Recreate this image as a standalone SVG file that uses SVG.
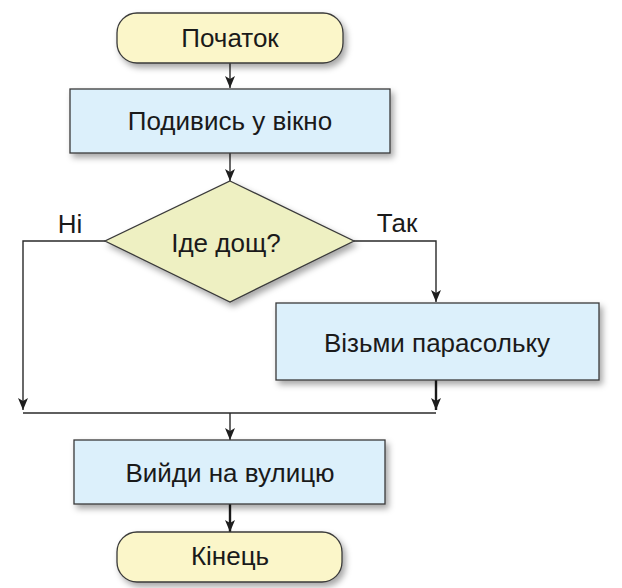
<svg xmlns="http://www.w3.org/2000/svg" width="622" height="588" viewBox="0 0 622 588">
<defs>
<filter id="sh" x="-10%" y="-20%" width="130%" height="160%">
<feDropShadow dx="3" dy="4" stdDeviation="3" flood-color="#000" flood-opacity="0.35"/>
</filter>
<marker id="ar" viewBox="0 0 12 10" refX="12" refY="5" markerWidth="12" markerHeight="10" markerUnits="userSpaceOnUse" orient="auto">
<path d="M0,0 L3,5 L0,10 L12,5 Z" fill="#1e1e1e"/>
</marker>
</defs>
<style>
.t{font-family:"Liberation Sans",Arial,sans-serif;font-size:26px;fill:#1a1a1a;text-anchor:middle}
.term{fill:#fbf6c9;stroke:#3a3a3a;stroke-width:1.3}
.proc{fill:#dcf0fb;stroke:#3a3a3a;stroke-width:1.3}
.dec{fill:#eef0c2;stroke:#3a3a3a;stroke-width:1.3}
.ln{fill:none;stroke:#2a2a2a;stroke-width:1.4}
.lnb{fill:none;stroke:#1a1a1a;stroke-width:2.4}
</style>
<rect width="622" height="588" fill="#fff"/>
<g id="connectors">
<line class="ln" x1="230" y1="63" x2="230" y2="88" marker-end="url(#ar)"/>
<line class="ln" x1="230" y1="153" x2="230" y2="181" marker-end="url(#ar)"/>
<polyline class="ln" points="105,241 23,241 23,410" marker-end="url(#ar)"/>
<polyline class="ln" points="354,241 436,241 436,302" marker-end="url(#ar)"/>
<line class="lnb" x1="436" y1="380" x2="436" y2="410" marker-end="url(#ar)"/>
<line class="ln" x1="23" y1="413" x2="436" y2="413"/>
<line class="ln" x1="230" y1="413" x2="230" y2="440" marker-end="url(#ar)"/>
<line class="lnb" x1="230" y1="504" x2="230" y2="532" marker-end="url(#ar)"/>
<text class="t" x="70" y="233">Ні</text>
<text class="t" x="397" y="232">Так</text>
</g>
<g id="start">
<rect class="term" x="117" y="13" width="226" height="50" rx="20" filter="url(#sh)"/>
<text class="t" x="230" y="47">Початок</text>
</g>
<g id="look">
<rect class="proc" x="70" y="89" width="320" height="64" filter="url(#sh)"/>
<text class="t" x="230" y="130">Подивись у вікно</text>
</g>
<g id="rain">
<polygon class="dec" points="230,181 354,241 230,302 105,241" filter="url(#sh)"/>
<text class="t" x="226" y="252">Іде дощ?</text>
</g>
<g id="umbrella">
<rect class="proc" x="276" y="303" width="323" height="77" filter="url(#sh)"/>
<text class="t" x="437" y="352">Візьми парасольку</text>
</g>
<g id="go">
<rect class="proc" x="74" y="440" width="311" height="64" filter="url(#sh)"/>
<text class="t" x="230" y="482">Вийди на вулицю</text>
</g>
<g id="end">
<rect class="term" x="117" y="532" width="225" height="50" rx="20" filter="url(#sh)"/>
<text class="t" x="230" y="565">Кінець</text>
</g>
</svg>
